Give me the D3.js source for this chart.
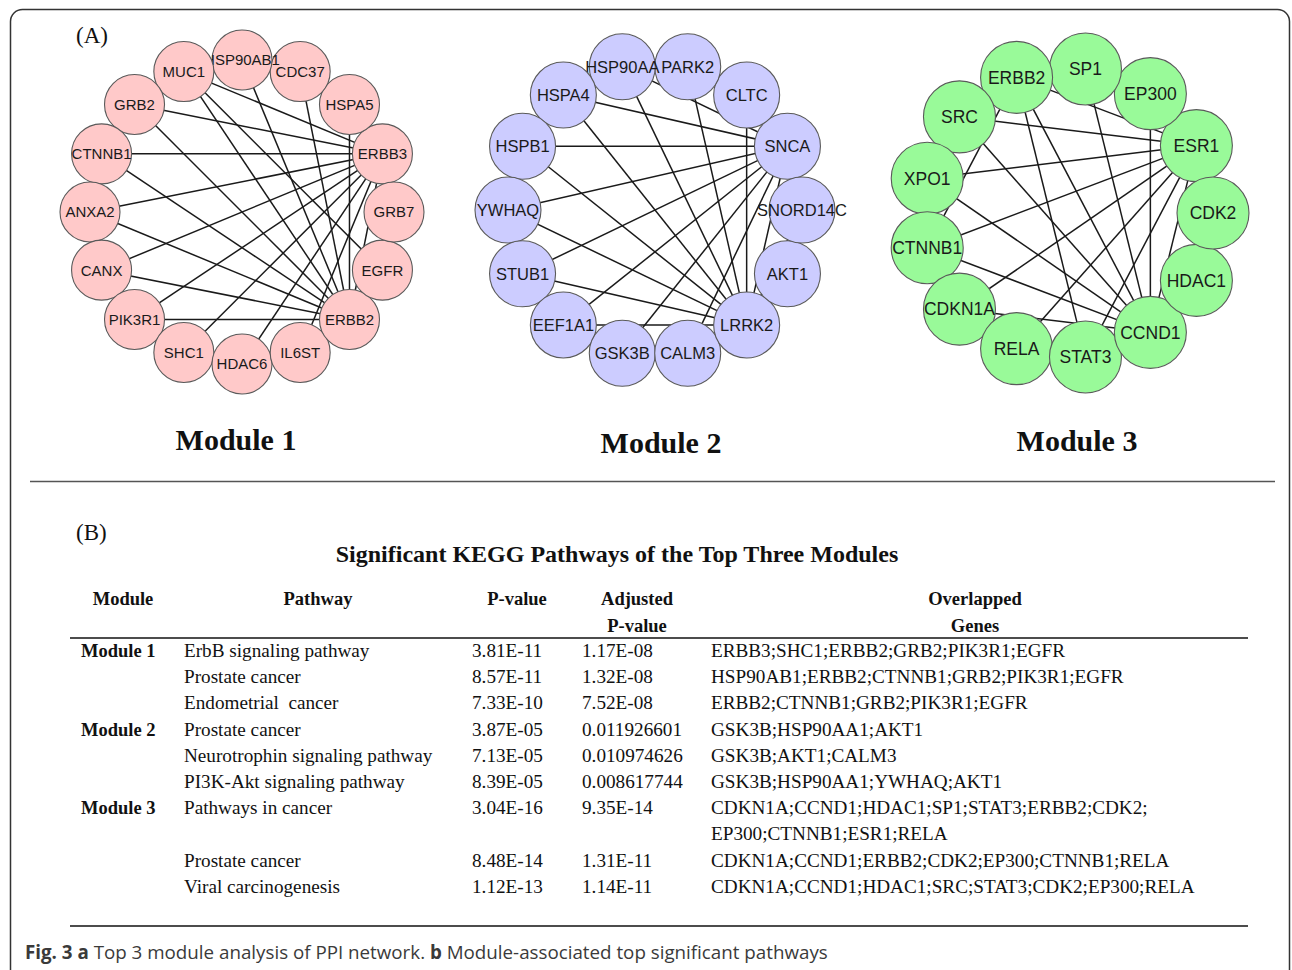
<!DOCTYPE html>
<html>
<head>
<meta charset="utf-8">
<script src="https://cdn.jsdelivr.net/npm/d3@7/dist/d3.min.js"></script>
<style>
  html, body { margin: 0; padding: 0; background: #fff; }
  svg { display: block; }
</style>
</head>
<body>
<svg id="fig" width="1292" height="970"></svg>
<script>
// ---- Module 1 network (nodes listed clockwise from the 3 o'clock position) ----
const module1Nodes = ["GRB7", "EGFR", "ERBB2", "IL6ST", "HDAC6", "SHC1", "PIK3R1", "CANX",
  "ANXA2", "CTNNB1", "GRB2", "MUC1", "HSP90AB1", "CDC37", "HSPA5", "ERBB3"];
const module1Edges = [
  ["ERBB3", "MUC1"], ["ERBB3", "GRB2"], ["ERBB3", "CTNNB1"], ["ERBB3", "ANXA2"],
  ["ERBB3", "CANX"], ["ERBB3", "PIK3R1"], ["ERBB3", "SHC1"], ["ERBB3", "HDAC6"],
  ["ERBB3", "IL6ST"], ["ERBB3", "ERBB2"],
  ["ERBB2", "MUC1"], ["ERBB2", "HSP90AB1"], ["ERBB2", "CDC37"], ["ERBB2", "HSPA5"],
  ["ERBB2", "GRB2"], ["ERBB2", "CTNNB1"], ["ERBB2", "ANXA2"], ["ERBB2", "CANX"],
  ["ERBB2", "PIK3R1"], ["ERBB2", "HDAC6"], ["ERBB2", "GRB7"],
  ["MUC1", "EGFR"], ["CDC37", "HSPA5"]
];

// ---- Module 2 network ----
const module2Nodes = ["SNORD14C", "AKT1", "LRRK2", "CALM3", "GSK3B", "EEF1A1", "STUB1",
  "YWHAQ", "HSPB1", "HSPA4", "HSP90AA", "PARK2", "CLTC", "SNCA"];
const module2Edges = [
  ["SNCA", "HSPA4"], ["SNCA", "HSP90AA"], ["SNCA", "HSPB1"], ["SNCA", "YWHAQ"],
  ["SNCA", "STUB1"], ["SNCA", "EEF1A1"], ["SNCA", "GSK3B"], ["SNCA", "CALM3"],
  ["SNCA", "LRRK2"],
  ["LRRK2", "HSPA4"], ["LRRK2", "HSP90AA"], ["LRRK2", "PARK2"], ["LRRK2", "CLTC"],
  ["LRRK2", "HSPB1"], ["LRRK2", "YWHAQ"], ["LRRK2", "STUB1"], ["LRRK2", "EEF1A1"],
  ["LRRK2", "SNORD14C"], ["LRRK2", "AKT1"]
];

// ---- Module 3 network ----
const module3Nodes = ["CDK2", "HDAC1", "CCND1", "STAT3", "RELA", "CDKN1A", "CTNNB1",
  "XPO1", "SRC", "ERBB2", "SP1", "EP300", "ESR1"];
const module3Edges = [
  ["ESR1", "ERBB2"], ["ESR1", "SRC"], ["ESR1", "XPO1"], ["ESR1", "CTNNB1"],
  ["ESR1", "CDKN1A"], ["ESR1", "RELA"], ["ESR1", "STAT3"], ["ESR1", "CCND1"],
  ["CCND1", "SP1"], ["CCND1", "EP300"], ["CCND1", "ERBB2"], ["CCND1", "SRC"],
  ["CCND1", "XPO1"], ["CCND1", "CTNNB1"], ["CCND1", "CDKN1A"], ["CCND1", "CDK2"],
  ["CCND1", "HDAC1"], ["CCND1", "STAT3"],
  ["ERBB2", "STAT3"], ["ERBB2", "CTNNB1"]
];

// ---- KEGG pathway table ----
const tableHeaders = [["Module"], ["Pathway"], ["P-value"], ["Adjusted", "P-value"], ["Overlapped", "Genes"]];
const rowModules = ["Module 1", "", "", "Module 2", "", "", "Module 3", "", ""];
const rowPathways = ["ErbB signaling pathway", "Prostate cancer", "Endometrial  cancer",
  "Prostate cancer", "Neurotrophin signaling pathway", "PI3K-Akt signaling pathway",
  "Pathways in cancer", "Prostate cancer", "Viral carcinogenesis"];
const rowPValues = ["3.81E-11", "8.57E-11", "7.33E-10", "3.87E-05", "7.13E-05", "8.39E-05",
  "3.04E-16", "8.48E-14", "1.12E-13"];
const rowAdjusted = ["1.17E-08", "1.32E-08", "7.52E-08", "0.011926601", "0.010974626",
  "0.008617744", "9.35E-14", "1.31E-11", "1.14E-11"];
const rowGenes = [
  ["ERBB3;SHC1;ERBB2;GRB2;PIK3R1;EGFR"],
  ["HSP90AB1;ERBB2;CTNNB1;GRB2;PIK3R1;EGFR"],
  ["ERBB2;CTNNB1;GRB2;PIK3R1;EGFR"],
  ["GSK3B;HSP90AA1;AKT1"],
  ["GSK3B;AKT1;CALM3"],
  ["GSK3B;HSP90AA1;YWHAQ;AKT1"],
  ["CDKN1A;CCND1;HDAC1;SP1;STAT3;ERBB2;CDK2;", "EP300;CTNNB1;ESR1;RELA"],
  ["CDKN1A;CCND1;ERBB2;CDK2;EP300;CTNNB1;RELA"],
  ["CDKN1A;CCND1;HDAC1;SRC;STAT3;CDK2;EP300;RELA"]
];

const svg = d3.select("#fig");
const serif = "'Liberation Serif', 'Times New Roman', serif";
const sans = "'Liberation Sans', Arial, sans-serif";

// outer rounded frame
svg.append("rect")
  .attr("x", 10.5).attr("y", 9.5).attr("width", 1279).attr("height", 990)
  .attr("rx", 12).attr("ry", 12)
  .attr("fill", "none").attr("stroke", "#333").attr("stroke-width", 1.5);

// panel letters
svg.append("text").attr("x", 76).attr("y", 43).text("(A)")
  .attr("font-family", serif).attr("font-size", 23).attr("fill", "#111");
svg.append("text").attr("x", 76).attr("y", 540).text("(B)")
  .attr("font-family", serif).attr("font-size", 23).attr("fill", "#111");

// ---- circular network drawing ----
function drawNetwork(cfg) {
  const n = cfg.nodes.length;
  const angle = d3.scaleLinear().domain([0, n]).range([0, 2 * Math.PI]);
  const pos = new Map();
  cfg.nodes.forEach((name, i) => {
    pos.set(name, [cfg.cx + cfg.R * Math.cos(angle(i)), cfg.cy + cfg.R * Math.sin(angle(i))]);
  });
  const g = svg.append("g");
  g.selectAll("line").data(cfg.edges).join("line")
    .attr("x1", d => pos.get(d[0])[0]).attr("y1", d => pos.get(d[0])[1])
    .attr("x2", d => pos.get(d[1])[0]).attr("y2", d => pos.get(d[1])[1])
    .attr("stroke", "#1a1a1a").attr("stroke-width", 1.5);
  // nodes drawn counter-clockwise so later circles sit over earlier labels
  const order = cfg.nodes.slice().reverse();
  const ng = g.selectAll("g.node").data(order).join("g").attr("class", "node")
    .attr("transform", d => `translate(${pos.get(d)[0]},${pos.get(d)[1]})`);
  ng.append("circle").attr("r", cfg.r)
    .attr("fill", cfg.fill).attr("stroke", "#5a5a5a").attr("stroke-width", 1.1);
  ng.append("text").text(d => d)
    .attr("text-anchor", "middle").attr("dy", "0.36em")
    .attr("font-family", sans).attr("font-size", cfg.fs).attr("fill", "#1a1a1a");
  svg.append("text").attr("x", cfg.titleX).attr("y", cfg.titleY).text(cfg.title)
    .attr("text-anchor", "middle").attr("font-family", serif)
    .attr("font-weight", "bold").attr("font-size", 30).attr("fill", "#111");
}

drawNetwork({ nodes: module1Nodes, edges: module1Edges, cx: 242, cy: 212, R: 152, r: 30,
  fill: "#ffc9c9", fs: 15, title: "Module 1", titleX: 236, titleY: 450 });
drawNetwork({ nodes: module2Nodes, edges: module2Edges, cx: 655, cy: 210, R: 147, r: 33,
  fill: "#ccccff", fs: 16.5, title: "Module 2", titleX: 661, titleY: 453 });
drawNetwork({ nodes: module3Nodes, edges: module3Edges, cx: 1068, cy: 213, R: 145, r: 36,
  fill: "#99fa99", fs: 17.5, title: "Module 3", titleX: 1077, titleY: 451 });

// divider between the panels
svg.append("line").attr("x1", 30).attr("x2", 1275).attr("y1", 481.5).attr("y2", 481.5)
  .attr("stroke", "#555").attr("stroke-width", 1.5);

// ---- table ----
svg.append("text").attr("x", 617).attr("y", 562)
  .text("Significant KEGG Pathways of the Top Three Modules")
  .attr("text-anchor", "middle").attr("font-family", serif)
  .attr("font-weight", "bold").attr("font-size", 24).attr("fill", "#111");

const headerX = [123, 318, 517, 637, 975];
const colX = [81, 184, 472, 582, 711];
const tg = svg.append("g").attr("font-family", serif).attr("fill", "#111");

tableHeaders.forEach((lines, c) => {
  lines.forEach((t, k) => {
    tg.append("text").attr("x", headerX[c]).attr("y", 605 + k * 27).text(t)
      .attr("text-anchor", "middle").attr("font-weight", "bold").attr("font-size", 18.5);
  });
});

svg.append("line").attr("x1", 70).attr("x2", 1248).attr("y1", 638).attr("y2", 638)
  .attr("stroke", "#111").attr("stroke-width", 1.6);

// each text line in the body sits on a fixed line pitch
const bodySize = 19.2;
const lineY = d3.scaleLinear().domain([0, 10]).range([657, 919]);
let lineIdx = 0;
rowPathways.forEach((p, i) => {
  const y = lineY(lineIdx);
  if (rowModules[i]) {
    tg.append("text").attr("x", colX[0]).attr("y", y).text(rowModules[i])
      .attr("font-weight", "bold").attr("font-size", 18.5);
  }
  tg.append("text").attr("x", colX[1]).attr("y", y).text(p)
    .attr("font-size", bodySize).style("white-space", "pre");
  tg.append("text").attr("x", colX[2]).attr("y", y).text(rowPValues[i]).attr("font-size", bodySize);
  tg.append("text").attr("x", colX[3]).attr("y", y).text(rowAdjusted[i]).attr("font-size", bodySize);
  rowGenes[i].forEach((gl, k) => {
    tg.append("text").attr("x", colX[4]).attr("y", lineY(lineIdx + k)).text(gl).attr("font-size", bodySize);
  });
  lineIdx += rowGenes[i].length;
});

svg.append("line").attr("x1", 70).attr("x2", 1248).attr("y1", 926).attr("y2", 926)
  .attr("stroke", "#111").attr("stroke-width", 1.6);

// ---- caption (condensed horizontally to its column width) ----
const capG = svg.append("g");
const cap = capG.append("text").attr("x", 0).attr("y", 0)
  .attr("font-family", "'Open Sans', 'Noto Sans', sans-serif").attr("font-size", 19)
  .attr("fill", "#3a3a3a");
cap.append("tspan").attr("font-weight", "bold").text("Fig. 3");
cap.append("tspan").text(" ");
cap.append("tspan").attr("font-weight", "bold").text("a");
cap.append("tspan").text(" Top 3 module analysis of PPI network. ");
cap.append("tspan").attr("font-weight", "bold").text("b");
cap.append("tspan").text(" Module-associated top significant pathways");
const capW = cap.node().getComputedTextLength();
capG.attr("transform", `translate(25,959) scale(${803 / capW},1)`);
</script>
</body>
</html>
